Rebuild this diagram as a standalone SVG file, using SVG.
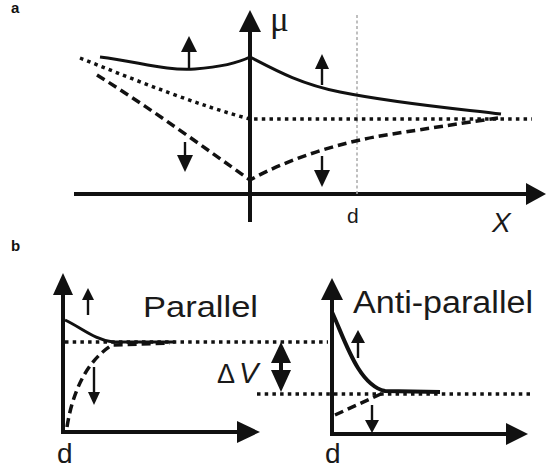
<svg xmlns="http://www.w3.org/2000/svg" width="546" height="470" viewBox="0 0 546 470">
<style>
.ax{stroke:#111;stroke-width:4;fill:none}
.sol{stroke:#111;stroke-width:3;fill:none}
.dot{stroke:#111;stroke-width:3.5;fill:none;stroke-dasharray:3.5 4.2}
.dsh{stroke:#111;stroke-width:3.5;fill:none;stroke-dasharray:9 5}
.sh{stroke:#111;stroke-width:2.4;fill:none}
.hd{fill:#111}
.t{font-family:"Liberation Sans",Arial,sans-serif;fill:#1a1a1a}
.lab{font-family:"Liberation Sans",Arial,sans-serif;font-weight:bold;font-size:15px;fill:#111}
</style>
<rect width="546" height="470" fill="#fff"/>
<text class="lab" x="11" y="13">a</text>
<text class="lab" x="11" y="251">b</text>

<g id="panel-a-axes">
<line class="ax" x1="250" y1="30" x2="250" y2="222"/>
<polygon class="hd" points="250,10 261,32 239,32"/>
<line class="ax" x1="74" y1="194" x2="528" y2="194"/>
<polygon class="hd" points="546,194 526,183 526,205"/>
<line x1="357" y1="15" x2="357" y2="194" stroke="#aaa" stroke-width="1.5" stroke-dasharray="3 2.5"/>
<text x="270" y="31" font-family="Liberation Serif,'Times New Roman',serif" font-size="35" fill="#1a1a1a">μ</text>
<text class="t" x="347" y="223" font-size="21" fill="#444">d</text>
<text class="t" x="492" y="232" font-size="28" font-style="italic">X</text>
</g>

<g id="panel-a-curves">
<path class="sol" d="M100,57 C140,62 165,71 195,69 C220,67 238,63 250,57 C275,70 300,84 340,92 C400,104 460,109 501,114"/>
<path class="dot" d="M80,58 C140,82 200,106 250,119 L532,119"/>
<path class="dsh" d="M97,75 C150,108 205,148 250,180 C290,158 340,143 380,136 C430,128 470,122 498,118"/>
</g>

<g id="panel-a-arrows">
<line class="sh" x1="189" y1="70" x2="189" y2="50"/>
<polygon class="hd" points="189,36 197,52 181,52"/>
<line class="sh" x1="322" y1="85" x2="322" y2="67"/>
<polygon class="hd" points="322,54 329,69 315,69"/>
<line class="sh" x1="185" y1="142" x2="185" y2="157"/>
<polygon class="hd" points="185,172 193,155 177,155"/>
<line class="sh" x1="322" y1="156" x2="322" y2="172"/>
<polygon class="hd" points="322,187 330,170 314,170"/>
</g>

<g id="panel-b-parallel">
<line class="ax" x1="63" y1="292" x2="63" y2="434"/>
<polygon class="hd" points="63,273 73,295 53,295"/>
<line class="ax" x1="61" y1="432" x2="240" y2="432"/>
<polygon class="hd" points="260,432 237,421 237,443"/>
<path class="sol" d="M65,320 C82,328 95,340 113,342 L175,342"/>
<path class="dsh" d="M67,427 C72,395 85,362 112,345 L170,343"/>
<line class="sh" x1="88" y1="315" x2="88" y2="298"/>
<polygon class="hd" points="88,288 94,300 82,300"/>
<line class="sh" x1="94" y1="367" x2="94" y2="394"/>
<polygon class="hd" points="94,405 100,392 88,392"/>
<text class="t" x="143" y="317" font-size="29" textLength="115" lengthAdjust="spacingAndGlyphs">Parallel</text>
</g>

<g id="panel-b-antiparallel">
<line class="ax" x1="332" y1="297" x2="332" y2="436"/>
<polygon class="hd" points="332,278 343,300 321,300"/>
<line class="ax" x1="330" y1="434" x2="508" y2="434"/>
<polygon class="hd" points="528,434 506,423 506,445"/>
<path d="M332,312 C345,340 358,385 385,391 L440,392" stroke="#111" stroke-width="4" fill="none"/>
<path class="dsh" d="M335,415 L383,393" stroke-width="3"/>
<line class="sh" x1="358" y1="358" x2="358" y2="341"/>
<polygon class="hd" points="358,330 365,343 351,343"/>
<line class="sh" x1="372" y1="405" x2="372" y2="422"/>
<polygon class="hd" points="372,433 379,420 365,420"/>
<text class="t" x="353" y="313" font-size="31" textLength="180" lengthAdjust="spacingAndGlyphs">Anti-parallel</text>
</g>

<g id="delta-v">
<line class="dot" x1="65" y1="342" x2="328" y2="342"/>
<line class="dot" x1="257" y1="394" x2="533" y2="394"/>
<polygon class="hd" points="281,342 291,363 271,363"/>
<polygon class="hd" points="281,392 291,370 271,370"/>
<line x1="281" y1="360" x2="281" y2="373" stroke="#111" stroke-width="4"/>
<text class="t" x="217" y="383" font-size="27">Δ<tspan x="239" font-style="italic" font-size="29">V</tspan></text>
<text class="t" x="57" y="463" font-size="28">d</text>
<text class="t" x="325" y="463" font-size="28">d</text>
</g>
</svg>
